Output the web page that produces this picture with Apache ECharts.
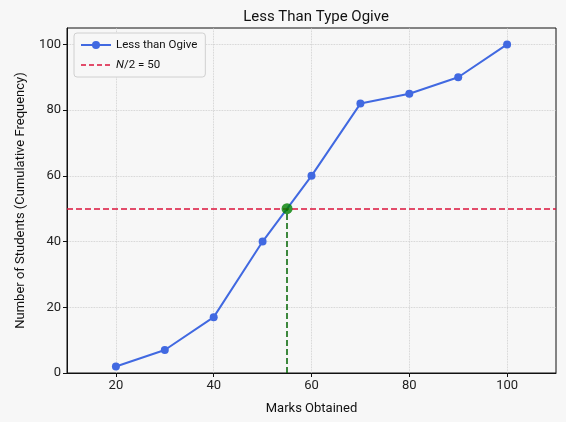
<!DOCTYPE html>
<html><head><meta charset="utf-8">
<script src="https://cdn.jsdelivr.net/npm/echarts@6/dist/echarts.min.js"></script>
<style>html,body{margin:0;padding:0;background:#f7f7f7}#c{width:566px;height:422px}</style>
</head><body><div id="c"></div>
<script>
const marks = [20, 30, 40, 50, 60, 70, 80, 90, 100];
const cumFreq = [2, 7, 17, 40, 60, 82, 85, 90, 100];
const halfN = 50;
const medianMark = 55;
const xTicks = [20, 40, 60, 80, 100];
const yTicks = [0, 20, 40, 60, 80, 100];
const font = 'Roboto, "Open Sans", sans-serif';

const chart = echarts.init(document.getElementById('c'), null, {renderer: 'canvas'});
chart.setOption({
  backgroundColor: '#f7f7f7',
  animation: false,
  title: {
    text: 'Less Than Type Ogive', left: 311, top: 5, textAlign: 'center',
    textStyle: {fontFamily: font, fontSize: 15, fontWeight: 'normal', color: '#111'}
  },
  legend: {
    data: [
      {name: 'Less than Ogive'},
      {name: 'N/2 = 50', itemStyle: {opacity: 0}, lineStyle: {color: '#dc143c', width: 1.5, type: [5, 3]}}
    ],
    orient: 'vertical', left: 74, top: 33,
    backgroundColor: '#f7f7f7', borderColor: '#d0d0d0', borderWidth: 1, borderRadius: 3,
    padding: [6, 8, 6, 6], itemGap: 8, itemWidth: 30, itemHeight: 10,
    textStyle: {fontFamily: font, fontSize: 11.5, color: '#111',
      rich: {i: {fontStyle: 'italic', fontFamily: font, fontSize: 11.5, color: '#111'}}},
    formatter: function (n) { return n === 'N/2 = 50' ? '{i|N}/2 = 50' : n; }
  },
  grid: {left: 67, right: 10, top: 28, bottom: 49, show: true, borderColor: '#111', borderWidth: 1, backgroundColor: '#f7f7f7'},
  xAxis: {
    type: 'value', min: 10, max: 110,
    name: 'Marks Obtained', nameLocation: 'middle', nameGap: 29,
    nameTextStyle: {fontFamily: font, fontSize: 13, color: '#111'},
    axisLine: {show: true, lineStyle: {color: '#111'}},
    axisTick: {show: true, customValues: xTicks, length: 4, lineStyle: {color: '#111'}},
    axisLabel: {customValues: xTicks, fontFamily: font, fontSize: 13, color: '#222', margin: 6},
    splitLine: {show: true, lineStyle: {type: 'dotted', color: '#c8c8c8', width: 0.8}}
  },
  yAxis: {
    type: 'value', min: 0, max: 105,
    name: 'Number of Students (Cumulative Frequency)', nameLocation: 'middle', nameGap: 40,
    nameTextStyle: {fontFamily: font, fontSize: 13, color: '#111'},
    axisLine: {show: true, lineStyle: {color: '#111'}},
    axisTick: {show: true, customValues: yTicks, length: 4, lineStyle: {color: '#111'}},
    axisLabel: {customValues: yTicks, fontFamily: font, fontSize: 13, color: '#222', margin: 6},
    splitLine: {show: true, lineStyle: {type: 'dotted', color: '#c8c8c8', width: 0.8}}
  },
  series: [
    {
      name: 'Less than Ogive', type: 'line',
      data: marks.map((m, i) => [m, cumFreq[i]]),
      symbol: 'circle', symbolSize: 8, showSymbol: true,
      itemStyle: {color: '#4169e1'}, lineStyle: {color: '#4169e1', width: 2}, z: 3
    },
    {
      name: 'N/2 = 50', type: 'line', data: [], symbol: 'none',
      itemStyle: {color: '#dc143c'},
      lineStyle: {color: '#dc143c', width: 1.5, type: [6, 3]},
      markLine: {
        silent: true, symbol: 'none', label: {show: false},
        lineStyle: {color: '#dc143c', width: 1.5, type: [6, 3]},
        data: [{yAxis: halfN}]
      }, z: 2
    },
    {
      name: 'Median', type: 'scatter',
      data: [[medianMark, halfN]], symbolSize: 11,
      itemStyle: {color: '#008000'}, z: 5,
      markLine: {
        silent: true, symbol: 'none', label: {show: false},
        lineStyle: {color: '#006400', width: 1.5, type: [6, 3]},
        data: [[{coord: [medianMark, 0]}, {coord: [medianMark, halfN]}]]
      }
    }
  ]
});
</script></body></html>
